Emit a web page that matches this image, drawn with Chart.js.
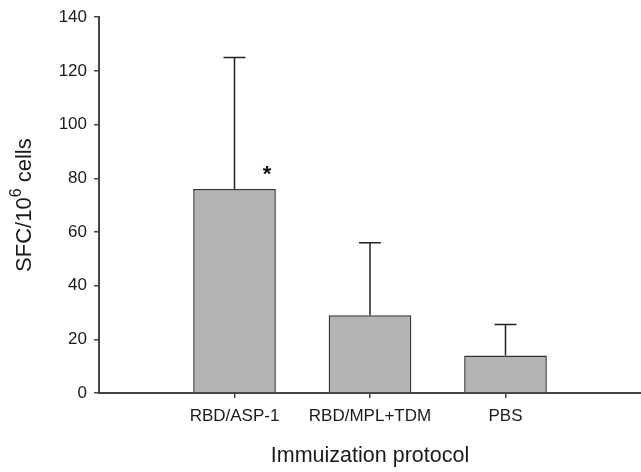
<!DOCTYPE html>
<html>
<head>
<meta charset="utf-8">
<script src="https://cdn.jsdelivr.net/npm/chart.js@4"></script>
<style>
  body { margin: 0; background: #fff; }
  #wrap { width: 641px; height: 472px; }
</style>
</head>
<body>
<div id="wrap"><canvas id="barChart"></canvas></div>
<script>
const categories = ["RBD/ASP-1", "RBD/MPL+TDM", "PBS"]
const positions = [1, 2, 3]
const means = [76, 29, 14]
const upperErrors = [125, 56, 25.5]
const yTicks = [0, 20, 40, 60, 80, 100, 120, 140]
// asterisk marking the significant group: [category index, x offset, y value]
const marks = [[0, 0.24, 83]]

const font = "Liberation Sans, Arial, sans-serif"

// upper error bars, asterisk and y title with superscript
const extras = {
    id: "extras",
    afterDatasetsDraw(chart) {
        const ctx = chart.ctx
        const x = chart.scales.x
        const y = chart.scales.y
        ctx.save()
        ctx.strokeStyle = "#222"
        ctx.lineWidth = 1.5
        for (let i = 0; i < means.length; i++) {
            const px = x.getPixelForValue(positions[i])
            const top = y.getPixelForValue(upperErrors[i])
            ctx.beginPath()
            ctx.moveTo(px, y.getPixelForValue(means[i]))
            ctx.lineTo(px, top)
            ctx.moveTo(px - 11, top)
            ctx.lineTo(px + 11, top)
            ctx.stroke()
        }
        ctx.fillStyle = "#111"
        ctx.textAlign = "center"
        ctx.textBaseline = "middle"
        ctx.font = "bold 22px " + font
        marks.forEach(m => {
            ctx.fillText("*", x.getPixelForValue(positions[m[0]] + m[1]), y.getPixelForValue(m[2]) + 5)
        })

        // y axis title
        ctx.translate(25, (chart.chartArea.top + chart.chartArea.bottom) / 2)
        ctx.rotate(-Math.PI / 2)
        ctx.textBaseline = "middle"
        ctx.textAlign = "left"
        const big = "22px " + font
        const small = "16px " + font
        ctx.font = big
        const a = "SFC/10", b = "6", c = " cells"
        const wa = ctx.measureText(a).width
        const wc = ctx.measureText(c).width
        ctx.font = small
        const wb = ctx.measureText(b).width
        let sx = -(wa + wb + wc) / 2
        ctx.fillStyle = "#1a1a1a"
        ctx.font = big
        ctx.fillText(a, sx, 0)
        ctx.font = small
        ctx.fillText(b, sx + wa, -8)
        ctx.font = big
        ctx.fillText(c, sx + wa + wb, 0)
        ctx.restore()
    }
}

const barData = {
    datasets: [{
        data: positions.map((p, i) => ({ x: p, y: means[i] })),
        backgroundColor: "#b4b4b4",
        borderColor: "#333333",
        borderWidth: 1.5,
        borderSkipped: "bottom",
        categoryPercentage: 0.61,
        barPercentage: 1
    }]
}

const barConfig = {
    type: "bar",
    data: barData,
    options: {
        responsive: false,
        animation: false,
        layout: { padding: { top: 15, right: 0, left: 0, bottom: 0 } },
        plugins: {
            legend: { display: false },
            tooltip: { enabled: false }
        },
        scales: {
            x: {
                type: "linear",
                min: 0,
                max: 4,
                offset: false,
                afterBuildTicks: scale => { scale.ticks = positions.map(v => ({ value: v })) },
                afterFit: scale => { scale.height = 79 },
                ticks: {
                    callback: v => categories[positions.indexOf(v)] || "",
                    color: "#1a1a1a",
                    font: { family: font, size: 17 },
                    padding: 8,
                    maxRotation: 0,
                    autoSkip: false
                },
                grid: { offset: false, drawOnChartArea: false, tickLength: 5, color: "#444", lineWidth: 1.5 },
                border: { color: "#444", width: 2 },
                title: {
                    display: true,
                    text: "Immuization protocol",
                    color: "#1a1a1a",
                    font: { family: font, size: 21.5 },
                    padding: { top: 0, bottom: 3 }
                }
            },
            y: {
                min: 0,
                max: 140,
                afterBuildTicks: scale => { scale.ticks = yTicks.map(v => ({ value: v })) },
                afterFit: scale => { scale.width = 99 },
                ticks: {
                    color: "#1a1a1a",
                    font: { family: font, size: 17 },
                    padding: 7
                },
                grid: { drawOnChartArea: false, tickLength: 5, color: "#444", lineWidth: 1.5 },
                border: { color: "#444", width: 2 }
            }
        }
    },
    plugins: [extras]
}

const canvas = document.getElementById("barChart")
canvas.width = 641
canvas.height = 472
const barChart = new Chart(canvas, barConfig)
</script>
</body>
</html>
